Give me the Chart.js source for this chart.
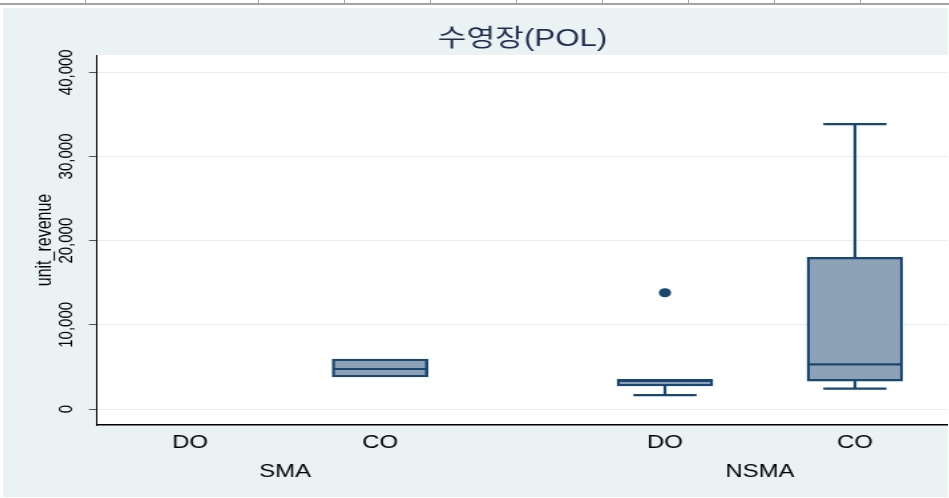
<!DOCTYPE html>
<html>
<head>
<meta charset="utf-8">
<script src="https://cdn.jsdelivr.net/npm/chart.js@4"></script>
<style>
  html, body { margin: 0; padding: 0; background: #fff; }
  body { width: 949px; height: 498px; position: relative; overflow: hidden; }
  .hline { position: absolute; left: 0; top: 3px; width: 949px; height: 2px; background: #a3a3a3; }
  .vline { position: absolute; top: 0; width: 1px; height: 5px; background: #a3a3a3; }
  #wrap { position: absolute; left: 3px; top: 8px; width: 945px; height: 489px; background: #eaf2f3; }
  #chart { display: block; }
</style>
</head>
<body>
<div class="hline"></div>
<div id="wrap">
  <canvas id="chart" width="711" height="489" style="width:945px;height:489px"></canvas>
</div>
<script>
// Datos del gráfico (unit_revenue por grupo)
const groups = ['SMA', 'NSMA'];
const groupPos = [1.5, 4];
const categories = ['DO', 'CO', 'DO', 'CO'];
const xPos = [1, 2, 3.5, 4.5];
const lowerWhisker = [null, 3800, 1660, 2410];
const q1 = [null, 3800, 2730, 3320];
const median = [null, 4750, 3330, 5310];
const q3 = [null, 5940, 3530, 18020];
const upperWhisker = [null, 5940, 3530, 33850];
const outliers = [[], [], [13810], []];
const yTicks = [0, 10000, 20000, 30000, 40000];

// Líneas de la tabla arriba
[85, 258, 344, 430, 516, 602, 688, 774, 860].forEach(px => {
    const d = document.createElement('div');
    d.className = 'vline';
    d.style.left = px + 'px';
    document.body.appendChild(d);
});

const navy = '#1a476f';
const boxFill = '#8da2b7';
Chart.defaults.font.family = "'Liberation Sans', Arial, 'Noto Sans CJK KR', sans-serif";
Chart.defaults.color = '#000';

// Fondo blanco del área del gráfico
const plotBg = {
    id: 'plotBg',
    beforeDraw(chart) {
        const {ctx, chartArea: a} = chart;
        ctx.save();
        ctx.fillStyle = '#fff';
        ctx.fillRect(a.left, a.top, a.right - a.left, a.bottom - a.top);
        ctx.restore();
    }
};

// Medianas y bigotes
const boxParts = {
    id: 'boxParts',
    afterDatasetsDraw(chart) {
        const {ctx, scales: {x, y}} = chart;
        const bars = chart.getDatasetMeta(0).data;
        ctx.save();
        ctx.strokeStyle = navy;
        ctx.lineWidth = 2.2;
        const seg = (x1, y1, x2, y2) => {
            ctx.beginPath();
            ctx.moveTo(x1, y1);
            ctx.lineTo(x2, y2);
            ctx.stroke();
        };
        xPos.forEach((pos, i) => {
            if (median[i] == null) return;
            const cx = x.getPixelForValue(pos);
            const half = bars[i].width / 2;
            const cap = half * 0.66;
            const ym = y.getPixelForValue(median[i]);
            seg(cx - half + 1, ym, cx + half - 1, ym);
            if (upperWhisker[i] > q3[i]) {
                const yu = y.getPixelForValue(upperWhisker[i]);
                seg(cx, y.getPixelForValue(q3[i]), cx, yu);
                seg(cx - cap, yu, cx + cap, yu);
            }
            if (lowerWhisker[i] < q1[i]) {
                const yl = y.getPixelForValue(lowerWhisker[i]);
                seg(cx, y.getPixelForValue(q1[i]), cx, yl);
                seg(cx - cap, yl, cx + cap, yl);
            }
        });
        ctx.restore();
    }
};

const outlierPoints = [];
outliers.forEach((vals, i) => vals.forEach(v => outlierPoints.push({x: xPos[i], y: v})));

// Quitar el relleno lateral que Chart.js reserva para las etiquetas
const noSidePad = (axis, h) => {
    axis.height = h;
    axis.paddingLeft = 0;
    axis.paddingRight = 0;
};

new Chart(document.getElementById('chart'), {
    type: 'bar',
    data: {
        datasets: [{
            type: 'bar',
            data: xPos.map((p, i) => ({x: p, y: q1[i] == null ? null : [q1[i], q3[i]]})),
            backgroundColor: boxFill,
            borderColor: navy,
            borderWidth: 2.4,
            borderSkipped: false,
            barThickness: 72
        }, {
            type: 'scatter',
            data: outlierPoints,
            pointRadius: 4.6,
            pointBackgroundColor: navy,
            pointBorderWidth: 0
        }]
    },
    options: {
        responsive: false,
        animation: false,
        layout: { padding: 0, autoPadding: false },
        plugins: {
            legend: { display: false },
            tooltip: { enabled: false },
            title: {
                display: true,
                text: '수영장(POL)',
                fullSize: false,
                color: '#1f2d4d',
                font: { size: 23.5, weight: 'normal' },
                padding: { top: 17, bottom: 1.8 }
            }
        },
        scales: {
            x: {
                type: 'linear',
                position: 'bottom',
                min: 0.51,
                max: 4.99,
                offset: false,
                weight: 0,
                grid: { display: false },
                border: { display: true, color: '#000', width: 1.5 },
                afterBuildTicks: axis => { axis.ticks = xPos.map(v => ({value: v})); },
                afterFit: axis => noSidePad(axis, 30),
                ticks: {
                    autoSkip: false,
                    maxRotation: 0,
                    padding: -1,
                    font: { size: 18 },
                    callback: (v, i) => categories[i]
                }
            },
            x2: {
                type: 'linear',
                position: 'bottom',
                min: 0.51,
                max: 4.99,
                offset: false,
                weight: 1,
                grid: { display: false },
                border: { display: false },
                afterBuildTicks: axis => { axis.ticks = groupPos.map(v => ({value: v})); },
                afterFit: axis => noSidePad(axis, 42),
                ticks: {
                    autoSkip: false,
                    maxRotation: 0,
                    padding: -2,
                    font: { size: 18 },
                    callback: (v, i) => groups[i]
                }
            },
            y: {
                min: -1900,
                max: 42050,
                grid: { color: '#e6eef0', lineWidth: 1, tickLength: 6, tickColor: '#555' },
                border: { display: true, color: '#000', width: 1 },
                afterBuildTicks: axis => { axis.ticks = yTicks.map(v => ({value: v})); },
                afterFit: axis => { axis.width = 70.7; },
                ticks: {
                    minRotation: 90,
                    maxRotation: 90,
                    crossAlign: 'center',
                    padding: -6.4,
                    font: { size: 15 },
                    callback: v => v.toLocaleString('en-US')
                },
                title: {
                    display: true,
                    text: 'unit_revenue',
                    font: { size: 16 },
                    padding: { top: 22, bottom: 0 }
                }
            }
        }
    },
    plugins: [plotBg, boxParts]
});
</script>
</body>
</html>
